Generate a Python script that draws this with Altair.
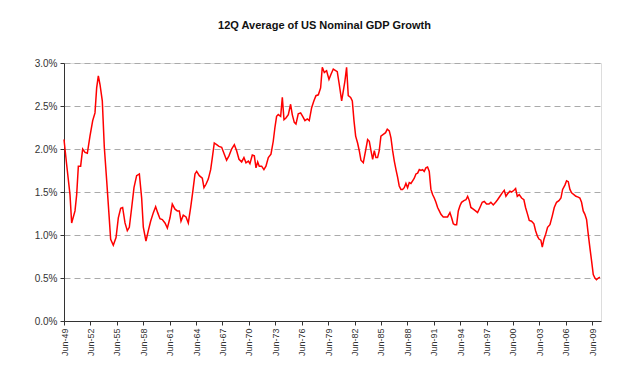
import altair as alt
import pandas as pd

# Decimal year and 12Q average nominal GDP growth (%)
years = [
    1949.50, 1949.80, 1950.18, 1950.37, 1950.75, 1950.94, 1951.13, 1951.39, 1951.62, 1951.89,
    1952.15, 1952.45, 1952.76, 1953.02, 1953.21, 1953.40, 1953.59, 1953.85, 1954.08, 1954.35,
    1954.61, 1954.80, 1955.10, 1955.41, 1955.67, 1955.94, 1956.16, 1956.43, 1956.69, 1956.92,
    1957.19, 1957.45, 1957.75, 1958.06, 1958.32, 1958.51, 1958.81, 1959.08, 1959.34, 1959.65,
    1959.91, 1960.14, 1960.40, 1960.67, 1960.97, 1961.24, 1961.54, 1961.80, 1962.11, 1962.37,
    1962.60, 1962.79, 1963.05, 1963.36, 1963.62, 1963.89, 1964.11, 1964.38, 1964.57, 1964.87,
    1965.21, 1965.40, 1965.63, 1965.89, 1966.16, 1966.35, 1966.57, 1966.84, 1967.10, 1967.41,
    1967.71, 1967.97, 1968.24, 1968.54, 1968.85, 1969.11, 1969.38, 1969.68, 1969.94, 1970.17,
    1970.44, 1970.62, 1970.89, 1971.12, 1971.31, 1971.50, 1971.68, 1971.95, 1972.21, 1972.44,
    1972.71, 1973.01, 1973.27, 1973.46, 1973.65, 1973.84, 1974.11, 1974.30, 1974.49, 1974.71,
    1974.98, 1975.24, 1975.43, 1975.66, 1975.85, 1976.11, 1976.38, 1976.61, 1976.87, 1977.14,
    1977.36, 1977.63, 1977.89, 1978.12, 1978.39, 1978.65, 1978.84, 1979.07, 1979.33, 1979.60,
    1979.83, 1980.09, 1980.54, 1980.77, 1981.04, 1981.22, 1981.41, 1981.60, 1981.79, 1982.06,
    1982.25, 1982.44, 1982.63, 1982.85, 1983.04, 1983.23, 1983.50, 1983.76, 1983.99, 1984.18,
    1984.37, 1984.56, 1984.75, 1984.93, 1985.12, 1985.31, 1985.50, 1985.77, 1986.03, 1986.22,
    1986.45, 1986.64, 1986.83, 1987.02, 1987.21, 1987.40, 1987.58, 1987.77, 1987.96, 1988.15,
    1988.34, 1988.53, 1988.72, 1988.91, 1989.10, 1989.29, 1989.48, 1989.67, 1989.86, 1990.05,
    1990.23, 1990.42, 1990.61, 1990.80, 1990.99, 1991.18, 1991.37, 1991.56, 1991.75, 1991.94,
    1992.13, 1992.32, 1992.58, 1992.85, 1993.07, 1993.34, 1993.53, 1993.72, 1993.91, 1994.10,
    1994.29, 1994.48, 1994.66, 1994.93, 1995.16, 1995.35, 1995.54, 1995.72, 1995.99, 1996.25,
    1996.48, 1996.75, 1997.01, 1997.24, 1997.50, 1997.77, 1997.99, 1998.26, 1998.53, 1998.75,
    1999.02, 1999.28, 1999.51, 1999.70, 1999.89, 2000.15, 2000.34, 2000.61, 2000.80, 2000.99,
    2001.21, 2001.48, 2001.74, 2001.93, 2002.16, 2002.35, 2002.61, 2002.88, 2003.07, 2003.30,
    2003.48, 2003.67, 2003.83, 2004.02, 2004.22, 2004.43, 2004.70, 2004.96, 2005.19, 2005.45,
    2005.72, 2005.95, 2006.14, 2006.40, 2006.59, 2006.78, 2006.97, 2007.16, 2007.42, 2007.65,
    2007.91, 2008.10, 2008.29, 2008.48, 2008.67, 2008.86, 2009.05, 2009.24, 2009.43, 2009.62,
    2009.81, 2009.99, 2010.19, 2010.38,
]
growth = [
    2.11, 1.82, 1.47, 1.14, 1.28, 1.47, 1.80, 1.80, 2.00, 1.96,
    1.95, 2.15, 2.33, 2.42, 2.71, 2.85, 2.75, 2.56, 2.02, 1.63,
    1.24, 0.95, 0.88, 0.97, 1.20, 1.31, 1.32, 1.14, 1.05, 1.09,
    1.32, 1.55, 1.69, 1.71, 1.43, 1.09, 0.93, 1.05, 1.16, 1.26,
    1.33, 1.26, 1.19, 1.18, 1.14, 1.08, 1.20, 1.36, 1.30, 1.28,
    1.28, 1.16, 1.23, 1.21, 1.14, 1.32, 1.49, 1.71, 1.74, 1.69,
    1.66, 1.55, 1.59, 1.65, 1.76, 1.90, 2.07, 2.05, 2.03, 2.02,
    1.94, 1.87, 1.92, 2.00, 2.05, 1.98, 1.88, 1.85, 1.90, 1.84,
    1.86, 1.83, 1.93, 1.92, 1.78, 1.85, 1.80, 1.80, 1.76, 1.80,
    1.90, 1.94, 2.09, 2.25, 2.38, 2.40, 2.38, 2.60, 2.34, 2.36,
    2.40, 2.52, 2.40, 2.31, 2.29, 2.41, 2.42, 2.38, 2.33, 2.35,
    2.33, 2.48, 2.56, 2.62, 2.63, 2.71, 2.95, 2.89, 2.91, 2.81,
    2.87, 2.93, 2.90, 2.75, 2.56, 2.67, 2.79, 2.95, 2.62, 2.60,
    2.56, 2.33, 2.15, 2.07, 1.98, 1.87, 1.84, 1.98, 2.11, 2.09,
    1.98, 1.88, 1.98, 1.90, 1.90, 1.98, 2.15, 2.17, 2.19, 2.23,
    2.21, 2.13, 1.98, 1.86, 1.76, 1.67, 1.57, 1.53, 1.53, 1.55,
    1.60, 1.55, 1.61, 1.60, 1.63, 1.66, 1.71, 1.72, 1.76, 1.75,
    1.76, 1.74, 1.78, 1.79, 1.74, 1.53, 1.47, 1.43, 1.38, 1.32,
    1.28, 1.24, 1.21, 1.21, 1.21, 1.26, 1.20, 1.13, 1.12, 1.12,
    1.28, 1.34, 1.38, 1.40, 1.41, 1.45, 1.40, 1.32, 1.30, 1.28,
    1.26, 1.32, 1.38, 1.39, 1.36, 1.36, 1.38, 1.35, 1.38, 1.41,
    1.45, 1.49, 1.52, 1.45, 1.48, 1.51, 1.50, 1.52, 1.54, 1.45,
    1.47, 1.43, 1.41, 1.32, 1.24, 1.17, 1.16, 1.13, 1.05, 0.98,
    0.95, 0.94, 0.86, 0.95, 1.01, 1.09, 1.12, 1.22, 1.32, 1.38,
    1.40, 1.43, 1.53, 1.58, 1.63, 1.62, 1.53, 1.49, 1.47, 1.45,
    1.44, 1.43, 1.38, 1.28, 1.24, 1.18, 1.01, 0.85, 0.70, 0.54,
    0.50, 0.48, 0.50, 0.51,
]

x_ticks = [1949.5 + 3 * i for i in range(21)]   # Jun-49 ... Jun-09
y_ticks = [0.0, 0.5, 1.0, 1.5, 2.0, 2.5, 3.0]

df = pd.DataFrame({"year": years, "growth": growth})

FONT = "Liberation Sans"

chart = (
    alt.Chart(df)
    .mark_line(color="#ff0000", strokeWidth=1.5)
    .encode(
        x=alt.X(
            "year:Q",
            scale=alt.Scale(domain=[1949.5, 2010.5], nice=False, zero=False),
            axis=alt.Axis(
                values=x_ticks,
                labelExpr="'Jun-' + substring(toString(floor(datum.value)), 2, 4)",
                labelAngle=270,
                labelFontSize=9,
                labelFont=FONT,
                labelColor="#333333",
                labelPadding=3,
                tickSize=4,
                tickColor="#333333",
                domainColor="#333333",
                grid=False,
                title=None,
            ),
        ),
        y=alt.Y(
            "growth:Q",
            scale=alt.Scale(domain=[0, 3], nice=False),
            axis=alt.Axis(
                values=y_ticks,
                labelExpr="format(datum.value, '.1f') + '%'",
                labelFontSize=10,
                labelFont=FONT,
                labelColor="#333333",
                labelPadding=3,
                tickSize=4,
                tickColor="#333333",
                domainColor="#333333",
                grid=True,
                gridColor="#aaaaaa",
                gridDash=[6, 4],
                gridWidth=1,
                title=None,
            ),
        ),
    )
    .properties(
        width=537,
        height=258,
        title=alt.TitleParams(
            "12Q Average of US Nominal GDP Growth",
            fontSize=11,
            fontWeight="bold",
            font=FONT,
            color="#111111",
            anchor="middle",
            frame="group",
            dx=-8,
            offset=27,
        ),
        autosize=alt.AutoSizeParams(type="none"),
        padding={"left": 56, "top": 55, "right": 29, "bottom": 60},
    )
    .configure_view(stroke=None)
    .configure(background="white")
)

chart.save("out.html", embed_options={"renderer": "svg", "actions": False})
